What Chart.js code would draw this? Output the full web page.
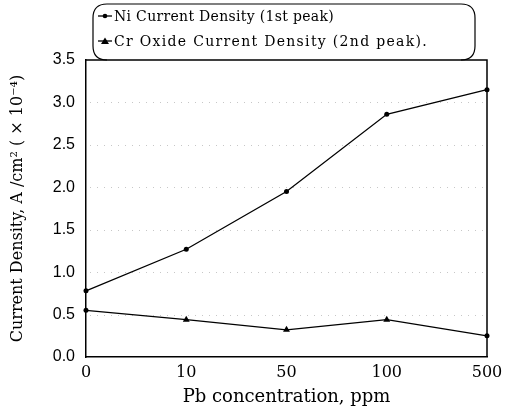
<!DOCTYPE html>
<html>
<head>
<meta charset="utf-8">
<script src="https://cdn.jsdelivr.net/npm/chart.js@4/dist/chart.umd.min.js"></script>
<style>
html,body{margin:0;padding:0;background:#fff;}
#wrap{width:509px;height:414px;position:relative;}
</style>
</head>
<body>
<div id="wrap"><canvas id="c" width="509" height="414"></canvas></div>
<script>
const categories = ['0', '10', '50', '100', '500'];
const niValues = [0.78, 1.27, 1.95, 2.86, 3.15];
const crValues = [0.55, 0.44, 0.32, 0.44, 0.25];
const seriesLabels = ['Ni Current Density (1st peak)', 'Cr Oxide Current Density (2nd peak).'];
const yTicks = [0, 0.5, 1.0, 1.5, 2.0, 2.5, 3.0, 3.5];
const xTitle = 'Pb concentration, ppm';
const yTitle = 'Current Density, A /cm\u00B2 ( \u00D7 10\u207B\u2074)';

const crStyles = ['circle', 'triangle', 'triangle', 'triangle', 'circle'];
const crRadii = [2.5, 4, 4, 4, 2.5];

const boxPlugin = {
  id: 'boxPlugin',
  beforeDatasetsDraw(chart) {
    const ctx = chart.ctx;
    const a = chart.chartArea;
    const ys = chart.scales.y;
    ctx.save();
    ctx.strokeStyle = 'rgba(0,0,0,0.22)';
    ctx.lineWidth = 1;
    ctx.setLineDash([1, 6]);
    yTicks.slice(1, -1).forEach(v => {
      const y = Math.round(ys.getPixelForValue(v)) + 0.5;
      ctx.beginPath();
      ctx.moveTo(a.left + 4, y);
      ctx.lineTo(a.right - 4, y);
      ctx.stroke();
    });
    ctx.restore();
  },
  afterDraw(chart) {
    const ctx = chart.ctx;
    const a = chart.chartArea;
    ctx.save();
    ctx.strokeStyle = '#000';
    ctx.lineWidth = 1.5;
    ctx.beginPath();
    ctx.moveTo(a.left, a.top);
    ctx.lineTo(a.right, a.top);
    ctx.lineTo(a.right, a.bottom);
    ctx.stroke();

    // legend box
    const L = 93, T = 4, R = 475, B = 60, r = 14;
    ctx.lineWidth = 1.2;
    ctx.beginPath();
    ctx.moveTo(L + r, B);
    ctx.quadraticCurveTo(L, B, L, B - r);
    ctx.lineTo(L, T + r);
    ctx.quadraticCurveTo(L, T, L + r, T);
    ctx.lineTo(R - r, T);
    ctx.quadraticCurveTo(R, T, R, T + r);
    ctx.lineTo(R, B - r);
    ctx.quadraticCurveTo(R, B, R - r, B);
    ctx.stroke();

    const rows = [
      {y: 16, text: chart.data.datasets[0].label, w: 220, style: 'circle'},
      {y: 41, text: chart.data.datasets[1].label, w: 314, style: 'triangle'}
    ];
    ctx.fillStyle = '#000';
    ctx.textBaseline = 'middle';
    ctx.textAlign = 'left';
    rows.forEach(row => {
      ctx.lineWidth = 1.3;
      ctx.beginPath();
      ctx.moveTo(98, row.y);
      ctx.lineTo(112, row.y);
      ctx.stroke();
      ctx.beginPath();
      if (row.style === 'circle') {
        ctx.arc(105, row.y, 2.3, 0, Math.PI * 2);
      } else {
        ctx.moveTo(105, row.y - 3.5);
        ctx.lineTo(109, row.y + 3);
        ctx.lineTo(101, row.y + 3);
        ctx.closePath();
      }
      ctx.fill();
      ctx.font = '14px "DejaVu Serif"';
      ctx.letterSpacing = '0px';
      const m = ctx.measureText(row.text).width;
      const sp = (row.w - m) / row.text.length;
      ctx.letterSpacing = sp.toFixed(2) + 'px';
      ctx.fillText(row.text, 114, row.y + 1);
      ctx.letterSpacing = '0px';
    });
    ctx.restore();
  }
};

new Chart(document.getElementById('c'), {
  type: 'line',
  data: {
    labels: categories,
    datasets: [
      {
        label: seriesLabels[0],
        data: niValues,
        borderColor: '#000',
        backgroundColor: '#000',
        borderWidth: 1.3,
        pointStyle: 'circle',
        pointRadius: 2.5,
        pointBorderWidth: 0,
        tension: 0,
        clip: false
      },
      {
        label: seriesLabels[1],
        data: crValues,
        borderColor: '#000',
        backgroundColor: '#000',
        borderWidth: 1.3,
        pointStyle: crStyles,
        pointRadius: crRadii,
        pointBorderWidth: 0,
        tension: 0,
        clip: false
      }
    ]
  },
  options: {
    responsive: false,
    animation: false,
    layout: {padding: {top: 60, right: 22, left: 0, bottom: 0}},
    plugins: {legend: {display: false}, tooltip: {enabled: false}},
    scales: {
      x: {
        offset: false,
        grid: {display: false, drawTicks: false},
        border: {display: true, color: '#000', width: 1.5},
        ticks: {color: '#000', font: {family: '"DejaVu Serif"', size: 16}, padding: 6, maxRotation: 0, autoSkip: false},
        title: {display: true, text: xTitle, color: '#000', font: {family: '"DejaVu Serif"', size: 18}, padding: {top: 0, bottom: 6}},
        afterFit(s) { s.height = 57; }
      },
      y: {
        min: 0, max: 3.5,
        afterBuildTicks(s) { s.ticks = yTicks.map(v => ({value: v})); },
        grid: {display: false, drawTicks: false},
        border: {display: true, color: '#000', width: 1.5},
        ticks: {color: '#000', font: {family: '"Liberation Sans"', size: 16}, padding: 11, callback: v => Number(v).toFixed(1)},
        title: {display: true, text: yTitle, color: '#000', font: {family: '"DejaVu Serif"', size: 16}, padding: {top: 8, bottom: 0}},
        afterFit(s) { s.width = 86; }
      }
    }
  },
  plugins: [boxPlugin]
});
</script>
</body>
</html>
